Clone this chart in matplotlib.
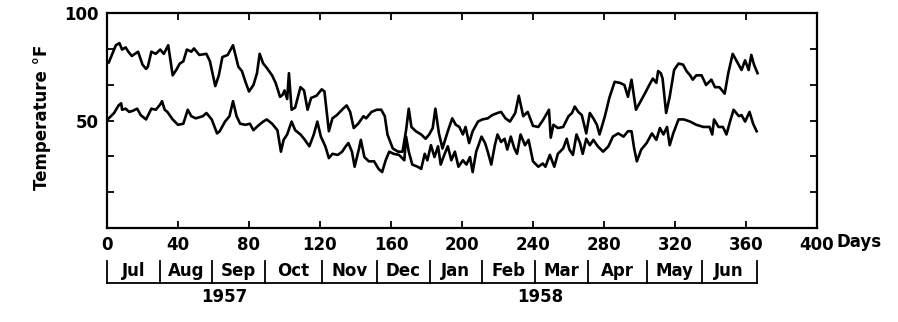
import numpy as np
import matplotlib
matplotlib.use('Agg')
import matplotlib.pyplot as plt

# daily max / min temperature (day, degF)
max_days = [1, 3, 5, 7, 8.5, 10.5, 12, 14, 17.5, 20, 22, 23, 25, 27.5, 30, 32, 34.5, 37, 39, 41, 43, 45,
            47.5, 49, 52, 56, 58, 61, 63, 65, 68, 70, 71, 74, 76, 78, 80, 82.5, 84.5, 86, 88, 90, 93, 95,
            97.5, 99, 100, 101.5, 102.5, 104, 106, 109, 111, 113, 115, 118, 121, 122.5, 125, 127, 129.5,
            133, 135, 137, 139, 141.5, 144.5, 146, 149, 152, 154.5, 156.5, 158, 161, 164, 166.5, 168.5,
            170, 171.5, 174, 177, 179.5, 181.5, 183.5, 185, 187, 189, 192, 194.5, 196.5, 198.5, 200.5,
            202, 204, 206, 209, 211.5, 214.5, 217, 220, 222, 224.5, 227, 230, 232, 234.5, 237, 240, 243,
            245.5, 249, 250, 251.5, 254, 257, 260, 262, 263.5, 265.5, 267.5, 270, 272, 274, 276, 277.5,
            280.5, 283, 286, 289, 291.5, 293.5, 295.5, 298, 300, 303, 305.5, 307.5, 309.5, 310.5, 312,
            313, 315, 317, 319.5, 322, 324.5, 326.5, 328.5, 330, 332, 335, 337.5, 340.5, 342.5, 345, 348,
            350, 352.5, 355.5, 357.5, 359.5, 361.5, 363, 364.5, 366.5]
max_temp = [77, 81, 85, 86, 83, 84, 82, 80, 82, 76, 74, 75, 82, 81, 83, 81, 85, 71, 73.5, 76.5, 77.5, 83,
            82, 83.5, 80.5, 81, 77.5, 66, 71, 79.5, 80.5, 83.5, 85, 75, 73, 68, 63.5, 66.5, 72, 81, 76.5,
            74.5, 71, 67.5, 61, 62, 64, 60, 72, 55, 56, 65.5, 64, 55, 60.5, 61.5, 64.5, 63.5, 45, 51,
            52.5, 55.5, 57, 54, 46.5, 48.5, 52, 51, 54, 55, 55, 52, 43.5, 37, 35.5, 35.5, 45.5, 55.5, 47,
            45, 43.5, 41.5, 43.5, 46.5, 55.5, 44, 37, 45, 51, 48, 47, 43.5, 47, 39.5, 45, 49.5, 50.5, 51,
            52.5, 53.5, 54, 51, 49.5, 53.5, 61.5, 52, 54, 47.5, 47, 50, 55, 42, 48, 46.5, 47, 52, 53.5,
            56.5, 54, 52.5, 44, 53.5, 51, 48, 43.5, 52, 60.5, 68, 67.5, 66.5, 61, 69, 55, 58, 62.5, 66.5,
            69.5, 67.5, 73, 72, 69.5, 53.5, 61, 73.5, 76.5, 76, 73, 71, 69, 71, 71, 66.5, 69, 65.5, 65.5,
            62.5, 72, 81, 76.5, 73.5, 78, 73.5, 80.5, 76, 72]

min_days = [1, 4, 6.5, 8, 8.5, 10.5, 12.5, 14.5, 17, 19, 22, 25, 27.5, 30, 31, 32.5, 34, 37, 40, 43, 45.5,
            47.5, 50, 54, 56, 59, 62, 63.5, 66.5, 69, 71, 73, 75, 78, 80.5, 82.5, 85, 88, 90, 93, 96, 98,
            99.5, 101.5, 104, 106, 109, 111, 114, 116.5, 118.5, 120.5, 123, 125, 127, 130, 132.5, 134.5,
            136, 138, 139.5, 142, 143, 145, 147.5, 150.5, 153, 155, 157, 159, 161.5, 164.5, 167.5, 168.5,
            170, 172, 175, 177, 179, 180.5, 182.5, 184.5, 186.5, 188, 190, 192, 194, 196, 198, 200.5,
            202.5, 204.5, 206, 208, 211, 213, 214.5, 216.5, 218.5, 220, 222, 224, 225.5, 227.5, 229.5,
            231, 233, 235.5, 237.5, 240, 243, 245.5, 247, 249.5, 252, 254, 257, 259, 260.5, 262.5, 264.5,
            266.5, 268, 270, 272, 274, 276.5, 279.5, 282.5, 285, 288, 291, 293.5, 295.5, 297, 298.5, 301,
            304, 307, 309.5, 311.5, 313.5, 315.5, 317, 319, 322, 325, 328.5, 332, 336, 339.5, 341, 342,
            344.5, 347, 349, 351, 353, 356, 357.5, 359.5, 362, 364, 366]
min_temp = [51, 53.5, 57, 58, 55, 55.5, 54, 54.5, 55.5, 52.5, 50.5, 55.5, 55, 57.5, 59, 55, 54, 50.5, 48,
            48.5, 55, 52, 51, 52, 53.5, 50.5, 44, 45, 49.5, 52, 59, 52, 48.5, 48, 48.5, 45.5, 47.5, 49.5,
            50.5, 48.5, 45.5, 35.5, 41, 43.5, 49.5, 45.5, 43.5, 41.5, 38, 43.5, 49.5, 42.5, 38, 32.5,
            34.5, 34, 35.5, 38, 39.5, 35.5, 28.5, 37, 41, 33, 31, 31, 27.5, 26, 31.5, 35.5, 34.5, 34,
            31.5, 42.5, 35.5, 29.5, 28.5, 27.5, 34.5, 31.5, 38.5, 33, 38, 29.5, 34, 38, 31.5, 35.5, 28.5,
            31.5, 29.5, 33, 26, 35.5, 42.5, 39.5, 35.5, 29.5, 38.5, 43.5, 40, 41.5, 36.5, 42.5, 37, 34.5,
            43.5, 38.5, 41, 31, 28.5, 30, 28.5, 34, 28.5, 34.5, 37, 41.5, 36.5, 34, 43.5, 39.5, 34.5,
            41.5, 38.5, 41, 38, 35.5, 38, 42.5, 44, 42.5, 45, 45, 37, 31, 36.5, 39.5, 44, 41, 46.5, 43.5,
            47, 38.5, 44, 50.5, 50.5, 49.5, 48, 47, 47, 43.5, 50.5, 47, 47, 43.5, 49.5, 55, 52, 52.5,
            49.5, 54, 48.5, 45]

x_ticks = [0, 40, 80, 120, 160, 200, 240, 280, 320, 360, 400]
y_ticks = [0, 100 / 6, 200 / 6, 50, 400 / 6, 500 / 6, 100]
y_labels = ['', '', '', '50', '', '', '100']

months = ['Jul', 'Aug', 'Sep', 'Oct', 'Nov', 'Dec', 'Jan', 'Feb', 'Mar', 'Apr', 'May', 'Jun']
month_edges = [0, 30, 59, 89, 121, 152, 182, 211, 241, 271, 304, 335, 366]
years = ['1957', '1958']
year_pos = [66, 244]

fig = plt.figure(figsize=(8.98, 3.22), dpi=100)
ax = fig.add_axes([107 / 898, 1 - 228 / 322, 710 / 898, 215 / 322])

ax.plot(max_days, max_temp, color='black', lw=1.9)
ax.plot(min_days, min_temp, color='black', lw=1.9)

ax.set_xlim(0, 400)
ax.set_ylim(0, 100)
ax.set_xticks(x_ticks)
ax.set_xticklabels([str(t) for t in x_ticks])
ax.set_yticks(y_ticks)
ax.set_yticklabels(y_labels)
ax.tick_params(direction='in', length=5, width=1.3, top=True, right=True,
               labelsize=12, pad=6)
for lab in ax.get_xticklabels() + ax.get_yticklabels():
    lab.set_fontweight('bold')
for s in ax.spines.values():
    s.set_linewidth(1.6)

fig.text(837 / 898, 1 - 242 / 322, 'Days', fontsize=12, fontweight='bold', va='center', ha='left')
fig.text(42 / 898, 1 - 117 / 322, 'Temperature \u00b0F', fontsize=12, fontweight='bold',
         rotation=90, va='center', ha='center')

# month strip under the axis
tr = ax.get_xaxis_transform()
for e in month_edges:
    ax.plot([e, e], [-0.155, -0.255], transform=tr, color='black', lw=1.3, clip_on=False)
ax.plot([month_edges[0], month_edges[-1]], [-0.255, -0.255], transform=tr, color='black',
        lw=1.3, clip_on=False)
for i, m in enumerate(months):
    mid = (month_edges[i] + month_edges[i + 1]) / 2
    ax.text(mid, -0.2, m, transform=tr, fontsize=12, fontweight='bold', ha='center', va='center')
for y, p in zip(years, year_pos):
    ax.text(p, -0.32, y, transform=tr, fontsize=12, fontweight='bold', ha='center', va='center')

fig.savefig('out.png', dpi=100)
